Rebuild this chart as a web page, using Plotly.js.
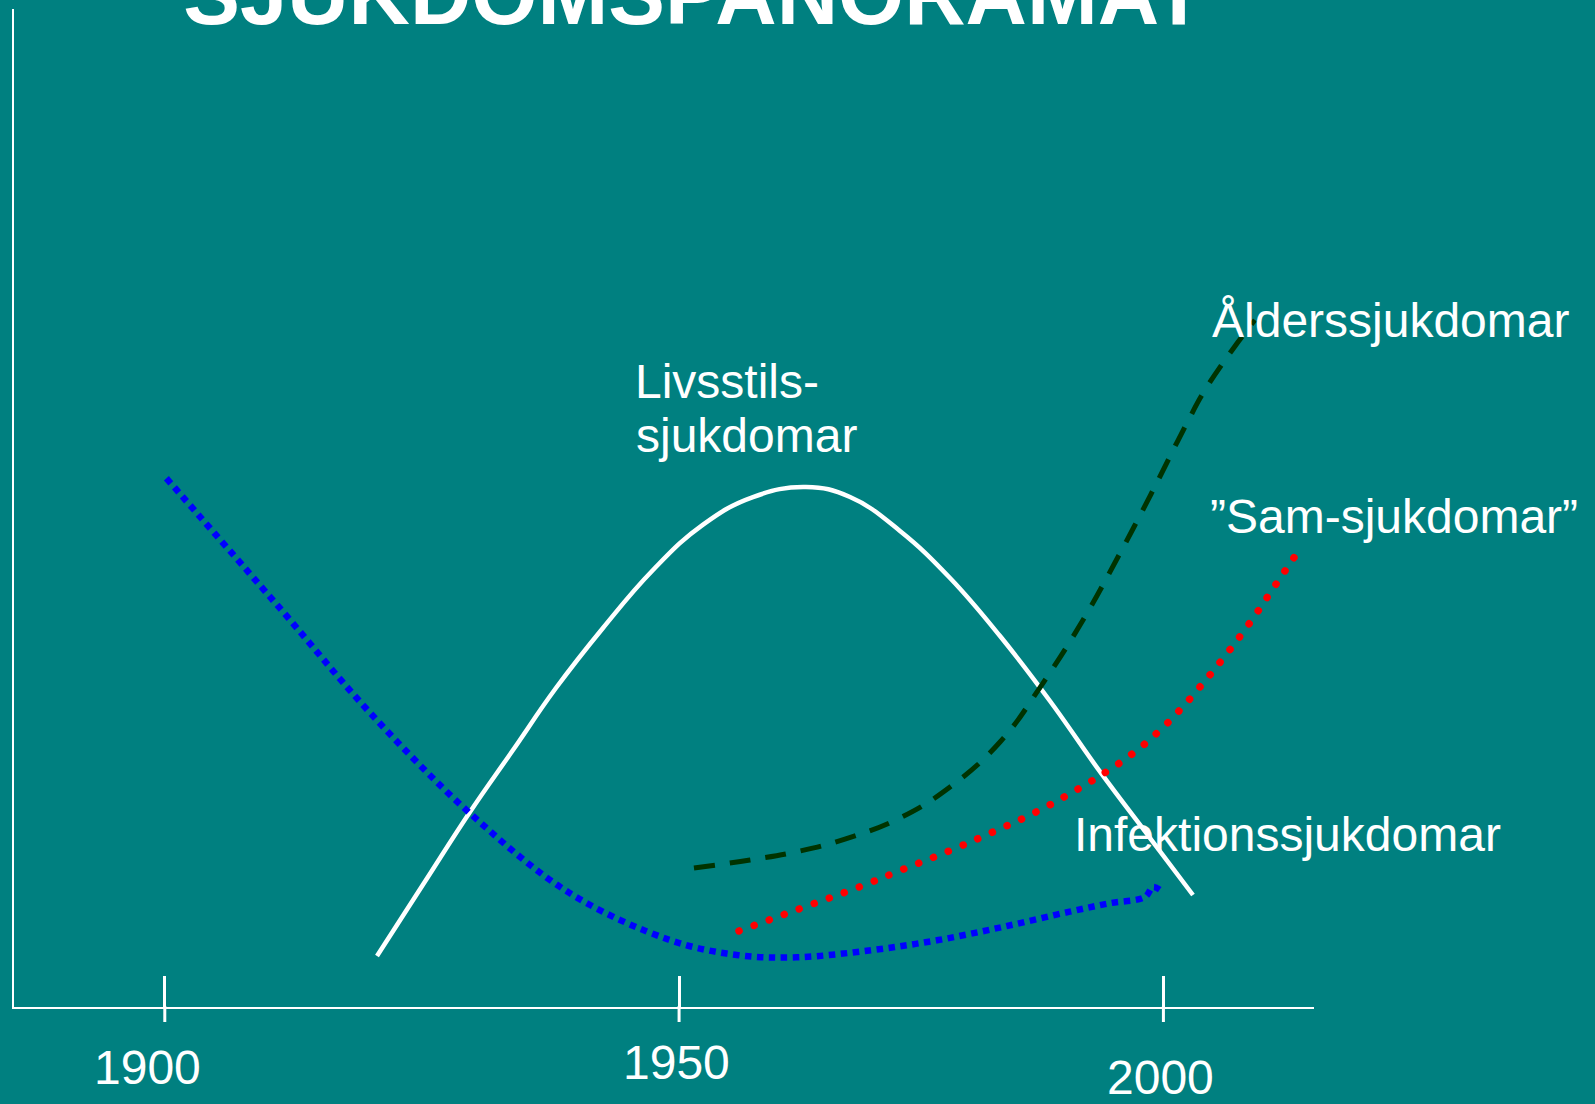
<!DOCTYPE html>
<html>
<head>
<meta charset="utf-8">
<script src="https://cdn.plot.ly/plotly-3.0.1.min.js"></script>
<style>
  html, body { margin: 0; padding: 0; background: #008080; }
  #chart { width: 1595px; height: 1104px; }
</style>
</head>
<body>
<div id="chart"></div>
<script>
// ---- Data (years on x, relative level 0-100 on y) ----
const titleText = "SJUKDOMSPANORAMAT";

const livsstilYears = [1921.25, 1925.96, 1930.56, 1934.87, 1939.17, 1943.88, 1948.89, 1953.90, 1958.90, 1964.21, 1968.62, 1973.62, 1978.63, 1983.64, 1988.64, 1993.65, 1998.66, 2002.96];
const livsstilLevel = [5.11, 12.42, 19.54, 25.75, 31.96, 37.98, 43.79, 48.34, 51.10, 52.10, 51.10, 47.70, 42.99, 37.17, 30.66, 23.58, 16.93, 11.22];

const infektionYears = [1900.16, 1911.68, 1920.55, 1930.56, 1940.58, 1950.59, 1957.27, 1963.28, 1970.88, 1977.46, 1984.04, 1990.62, 1994.55, 1998.15, 1998.96, 1999.96];
const infektionLevel = [52.98, 39.78, 29.49, 19.41, 11.39, 6.71, 5.21, 4.98, 5.71, 6.71, 8.05, 9.55, 10.39, 11.02, 12.02, 11.52];

const alderYears = [1952.99, 1958.60, 1963.61, 1968.11, 1973.62, 1978.63, 1983.64, 1987.94, 1991.95, 1995.45, 1998.76, 2002.36, 2004.16, 2007.47, 2009.17];
const alderLevel = [13.93, 14.73, 15.63, 16.83, 18.94, 22.04, 26.55, 32.46, 38.78, 45.09, 51.40, 58.52, 61.82, 66.63, 68.84];

const samYears = [1957.50, 1963.51, 1969.52, 1974.02, 1978.53, 1982.94, 1987.24, 1991.45, 1994.25, 1996.86, 1999.36, 2001.56, 2003.56, 2005.77, 2008.57, 2011.28, 2013.18];
const samLevel = [7.62, 9.82, 12.02, 13.83, 15.63, 17.54, 19.54, 21.84, 23.55, 25.35, 27.45, 29.66, 31.96, 34.67, 38.38, 42.38, 45.19];

const seriesNames = ["Livsstilssjukdomar", "Infektionssjukdomar", "Ålderssjukdomar", "”Sam-sjukdomar”"];
const labelTexts = ["Livsstils-", "sjukdomar", "Ålderssjukdomar", "”Sam-sjukdomar”", "Infektionssjukdomar"];

const tickPositions = [1900, 1951.5, 2000];
const tickLabels = ["1900", "1950", "2000"];

// ---- Layout helpers ----
const W = 1595, H = 1104;
const M = { l: 14, r: 281, t: 9, b: 97 };
const PW = W - M.l - M.r, PH = H - M.t - M.b;
const fx = p => (p - M.l) / PW;          // pixel x -> paper x
const fy = p => (H - M.b - p) / PH;      // pixel y -> paper y
const FONT = "Liberation Sans, Arial, Helvetica, sans-serif";
const FS = 48;
const DESC = 0.212 * FS;

const traces = [
  { x: livsstilYears, y: livsstilLevel, name: seriesNames[0], mode: "lines",
    line: { color: "#ffffff", width: 4.5, shape: "spline", smoothing: 1.2, simplify: false } },
  { x: infektionYears, y: infektionLevel, name: seriesNames[1], mode: "lines",
    line: { color: "#0000ff", width: 6.5, dash: "6.5px,5.5px", shape: "spline", smoothing: 1.0, simplify: false } },
  { x: alderYears, y: alderLevel, name: seriesNames[2], mode: "lines",
    line: { color: "#003300", width: 5, dash: "21px,15px", shape: "spline", smoothing: 1.2, simplify: false } },
  { x: samYears, y: samLevel, name: seriesNames[3], mode: "lines",
    line: { color: "#ff0000", width: 7.5, dash: "0.1px,15.9px", shape: "spline", smoothing: 1.2, simplify: false } }
];

function label(text, xpix, baseline, anchor) {
  return {
    text: text, xref: "paper", yref: "paper",
    x: fx(xpix), y: fy(baseline + DESC),
    xanchor: anchor || "left", yanchor: "bottom",
    showarrow: false, borderpad: 0, borderwidth: 0,
    font: { family: FONT, size: FS, color: "#ffffff" }
  };
}

const annotations = [
  label(labelTexts[0], 635, 398),
  label(labelTexts[1], 636, 452),
  label(labelTexts[2], 1212, 337),
  label(labelTexts[3], 1210, 533),
  label(labelTexts[4], 1074, 851),
  label(tickLabels[0], 147, 1084, "center"),
  label(tickLabels[1], 676, 1079, "center"),
  label(tickLabels[2], 1160, 1094, "center")
];

// lower half of the crossing tick marks (below the axis line)
const tickShapes = tickPositions.map(t => ({
  type: "line", xref: "x", yref: "paper",
  x0: t, x1: t, y0: fy(1022), y1: fy(1006),
  line: { color: "#ffffff", width: 3 }
}));

const xRange = [1884.90, 2015.08];

const layout = {
  width: W, height: H,
  paper_bgcolor: "#008080", plot_bgcolor: "#008080",
  margin: M,
  showlegend: false,
  title: {
    text: "<b>" + titleText + "</b>",
    font: { family: FONT, size: 85, color: "#ffffff" },
    x: 694 / W, xanchor: "center", xref: "container",
    y: 1 - 24 / H, yanchor: "bottom", yref: "container",
    pad: { t: 0, b: 0, l: 0, r: 0 }
  },
  xaxis: {
    range: xRange, showgrid: false, zeroline: false,
    showline: true, linecolor: "#ffffff", linewidth: 2,
    tickmode: "array", tickvals: tickPositions, ticktext: tickLabels,
    ticks: "inside", ticklen: 31, tickwidth: 3, tickcolor: "#ffffff",
    showticklabels: false
  },
  yaxis: {
    range: [0, 100], showgrid: false, zeroline: false,
    showline: true, linecolor: "#ffffff", linewidth: 2,
    ticks: "", showticklabels: false
  },
  shapes: tickShapes,
  annotations: annotations
};

Plotly.newPlot("chart", traces, layout, { displayModeBar: false, staticPlot: true }).then(function (gd) {
  const tr = gd.querySelectorAll(".scatterlayer .trace");
  if (tr[3]) tr[3].querySelectorAll("path.js-line").forEach(p => { p.style.strokeLinecap = "round"; });
});
</script>
</body>
</html>
